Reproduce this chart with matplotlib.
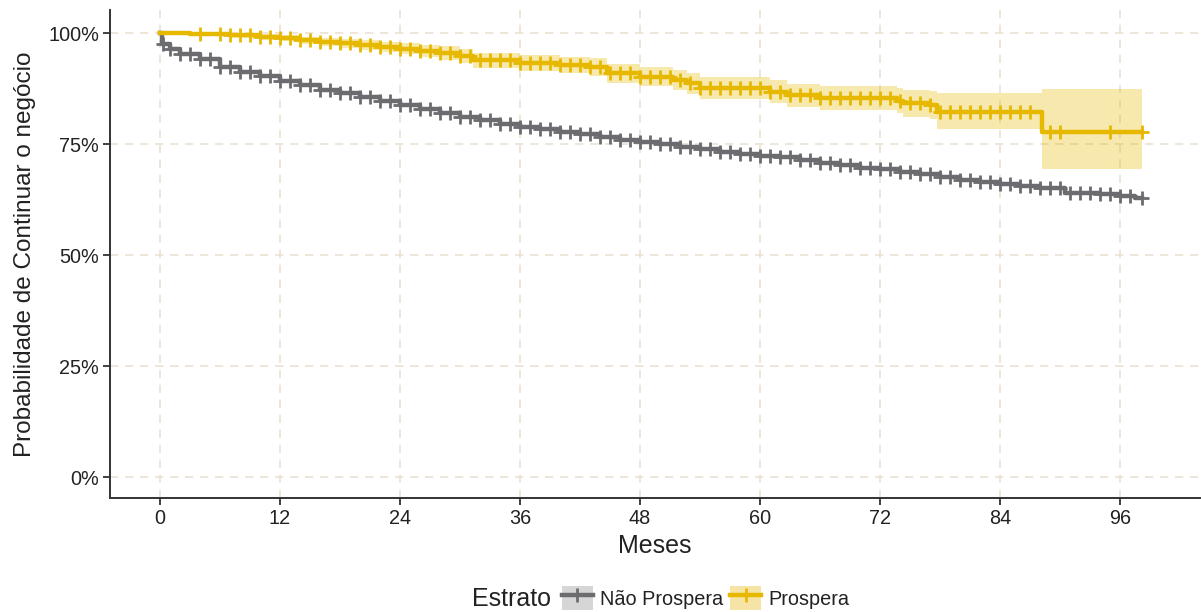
import matplotlib
matplotlib.use('Agg')
import matplotlib.pyplot as plt
import numpy as np
from matplotlib.patches import Patch
from matplotlib.lines import Line2D
from matplotlib.legend_handler import HandlerTuple
from matplotlib.ticker import FuncFormatter, FixedLocator

plt.rcParams['font.family'] = ['Liberation Sans', 'DejaVu Sans']

# ---------------- data ----------------
strata = ['Não Prospera', 'Prospera']

gray_t = [0, 0.2, 1, 2, 4, 6, 8, 10, 12, 14, 16, 18, 20, 22, 24, 26, 28, 30, 32, 34, 36,
          38, 40, 42, 44, 46, 48, 50, 52, 54, 56, 58, 60, 62, 64, 66, 68, 70, 72, 74,
          76, 78, 80, 82, 84, 86, 88, 90.5, 94, 96, 97.5, 98.2]
gray_s = [100, 97.6, 96.5, 95.4, 94.1, 92.4, 91.3, 90.4, 89.2, 88.3, 87.2, 86.4, 85.6, 84.7,
          83.9, 83.0, 82.0, 81.0, 80.4, 79.6, 78.9, 78.3, 77.8, 77.2, 76.6, 76.0, 75.5,
          75.0, 74.4, 73.8, 73.3, 72.8, 72.4, 72.0, 71.4, 70.8, 70.3, 69.7, 69.3, 68.8,
          68.2, 67.5, 67.0, 66.5, 66.0, 65.5, 65.0, 64.0, 63.7, 63.3, 62.8, 62.8]
gray_censor = [0.3, 1, 2, 3, 4, 5, 6, 7, 8, 9, 10, 11, 12, 13, 14, 15, 16, 17, 18, 19, 20,
               21, 22, 23, 24, 25, 26, 27, 28, 29, 30, 31, 32, 33, 34, 35, 36, 37, 38, 39,
               40, 41, 42, 43, 44, 45, 46, 47, 48, 49, 50, 51, 52, 53, 54, 55, 56, 57, 58,
               59, 60, 61, 62, 63, 64, 65, 66, 67, 68, 69, 70, 71, 72, 73, 74, 75, 76, 77,
               78, 79, 80, 81, 82, 83, 84, 85, 86, 87, 88, 89, 90, 91, 92, 93, 94, 95, 96,
               97, 98.2]

yel_t = [0, 3, 7, 10, 12, 14, 16, 18, 20, 22, 24, 26, 28, 30, 31.3, 36, 40, 43, 44.7, 48,
         51.3, 52.7, 54, 61, 62.7, 66, 73.7, 74.3, 77, 77.7, 88.2, 98.2]
yel_s = [100, 99.8, 99.5, 99.1, 98.9, 98.4, 98.0, 97.7, 97.4, 96.9, 96.5, 96.0, 95.5, 94.8,
         93.9, 93.2, 92.8, 92.3, 90.9, 90.2, 89.4, 88.7, 87.6, 86.8, 86.0, 85.3, 84.8,
         84.2, 83.8, 82.2, 77.8, 77.8]
yel_lo = [100, 99.4, 99.0, 98.5, 98.2, 97.6, 97.1, 96.7, 96.3, 95.7, 95.2, 94.6, 94.0, 93.2,
          92.2, 91.4, 90.9, 90.3, 88.8, 88.0, 87.1, 86.3, 85.2, 84.2, 83.4, 82.6, 81.9,
          81.2, 80.6, 78.3, 69.3, 69.3]
yel_hi = [100, 100, 100, 99.7, 99.6, 99.2, 98.9, 98.7, 98.5, 98.1, 97.8, 97.4, 97.0, 96.4,
          95.6, 95.0, 94.7, 94.3, 93.0, 92.4, 91.7, 91.1, 90.0, 89.4, 88.6, 88.0, 87.7,
          87.2, 87.0, 86.4, 87.5, 87.5]
yel_censor = [4, 6, 7, 8, 9, 10, 11, 12, 13, 14, 15, 16, 17, 18, 19, 20, 21, 22, 23, 24, 25,
              26, 27, 28, 29, 30, 31, 32, 33, 34, 35, 36, 37, 38, 39, 40, 41, 42, 43, 44,
              45, 46, 47, 48, 49, 50, 51, 52, 53, 54, 55, 56, 57, 58, 59, 60, 61, 62, 63,
              64, 65, 66, 67, 68, 69, 70, 71, 72, 73, 74, 75, 76, 77, 78, 79, 80, 81, 82,
              83, 84, 85, 86, 87, 89, 90, 95, 98.2]

x_ticks = [0, 12, 24, 36, 48, 60, 72, 84, 96]
y_ticks = [0, 25, 50, 75, 100]

GRAY = '#6B6B70'
YEL = '#E7B800'
TXT = '#222222'
LW = 3.2
MS = 10
MEW = 2.0


def step_value(times, surv, q):
    idx = np.searchsorted(np.asarray(times), np.asarray(q), side='right') - 1
    return np.asarray(surv)[idx]


# ---------------- figure ----------------
fig = plt.figure(figsize=(12.01, 6.12), dpi=100)
ax = fig.add_axes([110 / 1201, 114 / 612, 1090 / 1201, 488 / 612])

ax.fill_between(yel_t, yel_lo, yel_hi, step='post', color=YEL, alpha=0.32, lw=0, zorder=2)
ax.step(gray_t, gray_s, where='post', color=GRAY, lw=LW, zorder=3)
ax.step(yel_t, yel_s, where='post', color=YEL, lw=LW, zorder=4)

ax.plot(gray_censor, step_value(gray_t, gray_s, gray_censor), ls='none', marker='+',
        ms=MS, mew=MEW, color=GRAY, zorder=3)
ax.plot(yel_censor, step_value(yel_t, yel_s, yel_censor), ls='none', marker='+',
        ms=MS, mew=MEW, color=YEL, zorder=4)

ax.set_xlim(-5.0, 104.0)
ax.set_ylim(-4.73, 105.2)
ax.xaxis.set_major_locator(FixedLocator(x_ticks))
ax.yaxis.set_major_locator(FixedLocator(y_ticks))
ax.yaxis.set_major_formatter(FuncFormatter(lambda v, p: f'{v:.0f}%'))

ax.set_axisbelow(True)
ax.grid(True, ls=(0, (5, 4)), color='#EBE2D4', lw=1.2, zorder=0)
for s in ['top', 'right']:
    ax.spines[s].set_visible(False)
for s in ['left', 'bottom']:
    ax.spines[s].set_color('#333333')
    ax.spines[s].set_linewidth(1.4)
ax.tick_params(length=5, width=1.3, color='#333333', labelsize=14.3, labelcolor=TXT, pad=3)

ax.set_xlabel('Meses', fontsize=18, color=TXT, labelpad=4)
ax.set_ylabel('Probabilidade de Continuar o negócio', fontsize=17.5, color=TXT, labelpad=9)

# legend
fig.text(472 / 1201, 13 / 612, 'Estrato', fontsize=18, color=TXT, va='center', ha='left')
handles = [
    (Patch(facecolor='#D6D6D6', edgecolor='none'),
     Line2D([], [], color=GRAY, lw=LW, marker='+', ms=MS, mew=MEW)),
    (Patch(facecolor='#F6E4A6', edgecolor='none'),
     Line2D([], [], color=YEL, lw=LW, marker='+', ms=MS, mew=MEW)),
]
fig.legend(handles, strata, loc='center left', bbox_to_anchor=(562 / 1201, 14 / 612),
           ncol=2, frameon=False, fontsize=14.3, handlelength=1.56, handleheight=1.5,
           handletextpad=0.35, columnspacing=0.35, borderpad=0, borderaxespad=0,
           handler_map={tuple: HandlerTuple(ndivide=1, pad=0)}, labelcolor=TXT)

fig.savefig('out.png', dpi=100)
